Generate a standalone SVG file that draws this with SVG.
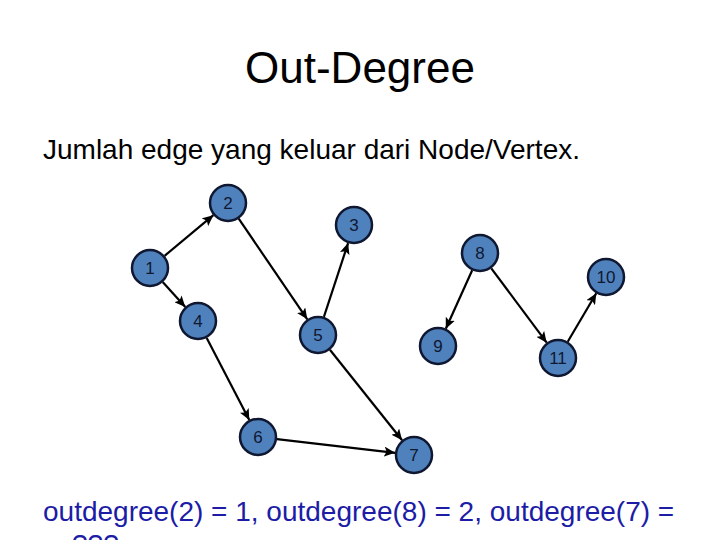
<svg xmlns="http://www.w3.org/2000/svg" width="720" height="540" viewBox="0 0 720 540">
<style>
.title{font-family:"Liberation Sans",Arial,sans-serif;font-size:44px;fill:#000}
.body{font-family:"Liberation Sans",Arial,sans-serif;font-size:28px;fill:#000}
.blue{font-family:"Liberation Sans",Arial,sans-serif;font-size:28px;fill:#1c1ca6}
.node circle{fill:#4f81bd;stroke:#0f1830;stroke-width:2.5}
.node text{font-family:"Liberation Sans",Arial,sans-serif;font-size:17px;fill:#0f1830;text-anchor:middle}
.edge{stroke:#000;stroke-width:2.2;fill:none;marker-end:url(#arr)}
</style>
<defs>
<marker id="arr" markerUnits="userSpaceOnUse" markerWidth="12" markerHeight="10" refX="11" refY="5" orient="auto">
<path d="M0,0 L11,5 L0,10 L2.5,5 z" fill="#000"/>
</marker>
</defs>
<rect width="720" height="540" fill="#fff"/>
<text class="title" x="360" y="83" text-anchor="middle">Out-Degree</text>
<text class="body" x="43" y="159">Jumlah edge yang keluar dari Node/Vertex.</text>
<g id="connectors">
<line class="edge" x1="164.6" y1="255.8" x2="213.4" y2="215.2"/>
<line class="edge" x1="162.7" y1="282.1" x2="185.3" y2="306.9"/>
<line class="edge" x1="238.7" y1="218.7" x2="307.3" y2="319.3"/>
<line class="edge" x1="323.9" y1="316.9" x2="348.1" y2="243.1"/>
<line class="edge" x1="206.7" y1="337.9" x2="249.3" y2="420.1"/>
<line class="edge" x1="329.9" y1="349.8" x2="402.1" y2="440.2"/>
<line class="edge" x1="276.9" y1="439.2" x2="395.1" y2="452.8"/>
<line class="edge" x1="472.2" y1="270.3" x2="445.8" y2="328.7"/>
<line class="edge" x1="491.3" y1="268.3" x2="546.7" y2="342.7"/>
<line class="edge" x1="567.7" y1="341.7" x2="596.3" y2="293.3"/>
</g>
<g id="n1" class="node"><circle cx="150" cy="268" r="18"/><text x="150" y="274">1</text></g>
<g id="n2" class="node"><circle cx="228" cy="203" r="18"/><text x="228" y="209">2</text></g>
<g id="n3" class="node"><circle cx="354" cy="225" r="18"/><text x="354" y="231">3</text></g>
<g id="n4" class="node"><circle cx="198" cy="321" r="18"/><text x="198" y="327">4</text></g>
<g id="n5" class="node"><circle cx="318" cy="335" r="18"/><text x="318" y="341">5</text></g>
<g id="n6" class="node"><circle cx="258" cy="437" r="18"/><text x="258" y="443">6</text></g>
<g id="n7" class="node"><circle cx="414" cy="455" r="18"/><text x="414" y="461">7</text></g>
<g id="n8" class="node"><circle cx="480" cy="253" r="18"/><text x="480" y="259">8</text></g>
<g id="n9" class="node"><circle cx="438" cy="346" r="18"/><text x="438" y="352">9</text></g>
<g id="n10" class="node"><circle cx="606" cy="277" r="18"/><text x="606" y="283">10</text></g>
<g id="n11" class="node"><circle cx="558" cy="358" r="18"/><text x="558" y="364">11</text></g>
<text class="blue" x="43" y="521">outdegree(2) = 1, outdegree(8) = 2, outdegree(7) =</text>
<text class="blue" x="72" y="554">???</text>
</svg>
